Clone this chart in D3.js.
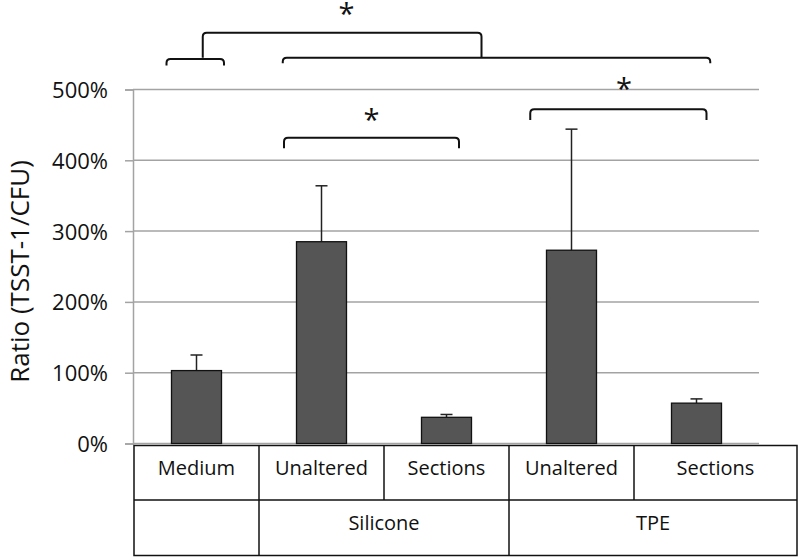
<!DOCTYPE html>
<html>
<head>
<meta charset="utf-8">
<script src="https://cdn.jsdelivr.net/npm/d3@7"></script>
<style>
  body { margin: 0; background: #fff; }
  svg { display: block; font-family: "Open Sans", sans-serif; }
</style>
</head>
<body>
<svg id="chart" width="800" height="557"></svg>
<script>
// values (percent)
var categories = ["Medium", "Silicone Unaltered", "Silicone Sections", "TPE Unaltered", "TPE Sections"];
var subLabels = ["Medium", "Unaltered", "Sections", "Unaltered", "Sections"];
var groups = [
  { label: "", from: 0, to: 0 },
  { label: "Silicone", from: 1, to: 2 },
  { label: "TPE", from: 3, to: 4 }
];
var ratios = [103, 285, 37, 273, 57];
var errors = [22, 79, 4, 171, 6];
var yTicks = [0, 100, 200, 300, 400, 500];

// significance brackets: x in category index units, y in percent
var brackets = [
  { x0: -0.24, x1: 0.22, y: 543, yEnd: 534 },
  { x0: 0.69, x1: 4.11, y: 545, yEnd: 537 },
  { x0: 0.05, x1: 2.28, y: 580, yEnd: 545 },
  { x0: 0.70, x1: 2.10, y: 432, yEnd: 417 },
  { x0: 2.67, x1: 4.08, y: 472, yEnd: 457 }
];
var stars = [
  { x: 1.20, y: 615 },
  { x: 1.40, y: 466 },
  { x: 3.42, y: 509 }
];

var svg = d3.select("#chart");

var left = 134, right = 759, tableRight = 797;
var y = d3.scaleLinear().domain([0, 500]).range([443.5, 89.5]);

var x = d3.scaleBand()
  .domain(categories)
  .range([left, right])
  .paddingInner(0.6)
  .paddingOuter(0.3);

// index based position, used for brackets and table edges
var xi = d3.scaleLinear().domain([-0.5, categories.length - 0.5]).range([left, right]);

// gridlines
svg.append("g").attr("class", "grid")
  .selectAll("line")
  .data(yTicks)
  .enter().append("line")
  .attr("x1", left - 1)
  .attr("x2", right)
  .attr("y1", function(d) { return y(d); })
  .attr("y2", function(d) { return y(d); })
  .attr("stroke", "#a3a3a3")
  .attr("stroke-width", 1.5);

// y axis
var yAxis = d3.axisLeft(y)
  .tickValues(yTicks)
  .tickSize(8)
  .tickPadding(17)
  .tickFormat(function(d) { return d + "%"; });

var ya = svg.append("g")
  .attr("transform", "translate(" + (left - 1) + ",0)")
  .call(yAxis);
ya.select(".domain").attr("stroke", "#a3a3a3").attr("stroke-width", 1.5);
ya.selectAll(".tick line").attr("stroke", "#a3a3a3").attr("stroke-width", 1.5);
ya.selectAll(".tick text")
  .attr("font-family", "Open Sans")
  .attr("font-size", 22)
  .attr("fill", "#111")
  .attr("dy", "0.36em");

svg.append("text")
  .attr("transform", "translate(29," + y(243) + ") rotate(-90)")
  .attr("text-anchor", "middle")
  .attr("font-size", 26)
  .attr("fill", "#111")
  .text("Ratio (TSST-1/CFU)");

// error bars (upper only)
var eb = svg.append("g").attr("class", "errors");
eb.selectAll("line.stem")
  .data(categories)
  .enter().append("line")
  .attr("class", "stem")
  .attr("x1", function(d) { return x(d) + x.bandwidth() / 2; })
  .attr("x2", function(d) { return x(d) + x.bandwidth() / 2; })
  .attr("y1", function(d, i) { return y(ratios[i]); })
  .attr("y2", function(d, i) { return y(ratios[i] + errors[i]); })
  .attr("stroke", "#222")
  .attr("stroke-width", 1.5);
eb.selectAll("line.cap")
  .data(categories)
  .enter().append("line")
  .attr("class", "cap")
  .attr("x1", function(d) { return x(d) + x.bandwidth() / 2 - 6; })
  .attr("x2", function(d) { return x(d) + x.bandwidth() / 2 + 6; })
  .attr("y1", function(d, i) { return y(ratios[i] + errors[i]); })
  .attr("y2", function(d, i) { return y(ratios[i] + errors[i]); })
  .attr("stroke", "#222")
  .attr("stroke-width", 1.5);

// bars
svg.append("g").attr("class", "bars")
  .selectAll("rect")
  .data(categories)
  .enter().append("rect")
  .attr("x", function(d) { return x(d); })
  .attr("width", x.bandwidth())
  .attr("y", function(d, i) { return y(ratios[i]); })
  .attr("height", function(d, i) { return y(0) - y(ratios[i]); })
  .attr("fill", "#555555")
  .attr("stroke", "#111")
  .attr("stroke-width", 1.3);

// brackets with rounded corners
function bracketPath(b) {
  var xa = xi(b.x0), xb = xi(b.x1), yt = y(b.y), yb = y(b.yEnd), r = 4;
  return "M" + xa + "," + yb +
    "L" + xa + "," + (yt + r) +
    "Q" + xa + "," + yt + " " + (xa + r) + "," + yt +
    "L" + (xb - r) + "," + yt +
    "Q" + xb + "," + yt + " " + xb + "," + (yt + r) +
    "L" + xb + "," + yb;
}
svg.append("g").attr("class", "brackets")
  .selectAll("path")
  .data(brackets)
  .enter().append("path")
  .attr("d", bracketPath)
  .attr("fill", "none")
  .attr("stroke", "#111")
  .attr("stroke-width", 2);

svg.append("g").attr("class", "stars")
  .selectAll("text")
  .data(stars)
  .enter().append("text")
  .attr("x", function(d) { return xi(d.x); })
  .attr("y", function(d) { return y(d.y) + 16; })
  .attr("text-anchor", "middle")
  .attr("font-size", 29)
  .attr("fill", "#111")
  .text("*");

// category table under the axis
var rowTop = 445.5, rowMid = 500, rowBot = 555.5;
var edges = d3.range(categories.length + 1).map(function(i) {
  return i === categories.length ? tableRight : xi(i - 0.5);
});
var cellRight = function(i) { return i === categories.length - 1 ? tableRight : xi(i + 0.5); };

var table = svg.append("g").attr("class", "table");
table.append("rect")
  .attr("x", edges[0]).attr("y", rowTop)
  .attr("width", tableRight - edges[0]).attr("height", rowBot - rowTop)
  .attr("fill", "none").attr("stroke", "#111").attr("stroke-width", 1.5);
table.append("line")
  .attr("x1", edges[0]).attr("x2", tableRight)
  .attr("y1", rowMid).attr("y2", rowMid)
  .attr("stroke", "#111").attr("stroke-width", 1.5);

// vertical lines of first row
table.selectAll("line.sub")
  .data(edges.slice(1, -1))
  .enter().append("line")
  .attr("class", "sub")
  .attr("x1", Number).attr("x2", Number)
  .attr("y1", rowTop).attr("y2", rowMid)
  .attr("stroke", "#111").attr("stroke-width", 1.5);

// vertical lines of second row (group boundaries)
table.selectAll("line.grp")
  .data(groups.slice(1))
  .enter().append("line")
  .attr("class", "grp")
  .attr("x1", function(g) { return edges[g.from]; })
  .attr("x2", function(g) { return edges[g.from]; })
  .attr("y1", rowMid).attr("y2", rowBot)
  .attr("stroke", "#111").attr("stroke-width", 1.5);

table.selectAll("text.sub")
  .data(subLabels)
  .enter().append("text")
  .attr("class", "sub")
  .attr("x", function(d, i) { return (edges[i] + cellRight(i)) / 2; })
  .attr("y", 475)
  .attr("text-anchor", "middle")
  .attr("font-size", 20)
  .attr("fill", "#111")
  .text(String);

table.selectAll("text.grp")
  .data(groups)
  .enter().append("text")
  .attr("class", "grp")
  .attr("x", function(g) { return (edges[g.from] + cellRight(g.to)) / 2; })
  .attr("y", 530)
  .attr("text-anchor", "middle")
  .attr("font-size", 20)
  .attr("fill", "#111")
  .text(function(g) { return g.label; });
</script>
</body>
</html>
